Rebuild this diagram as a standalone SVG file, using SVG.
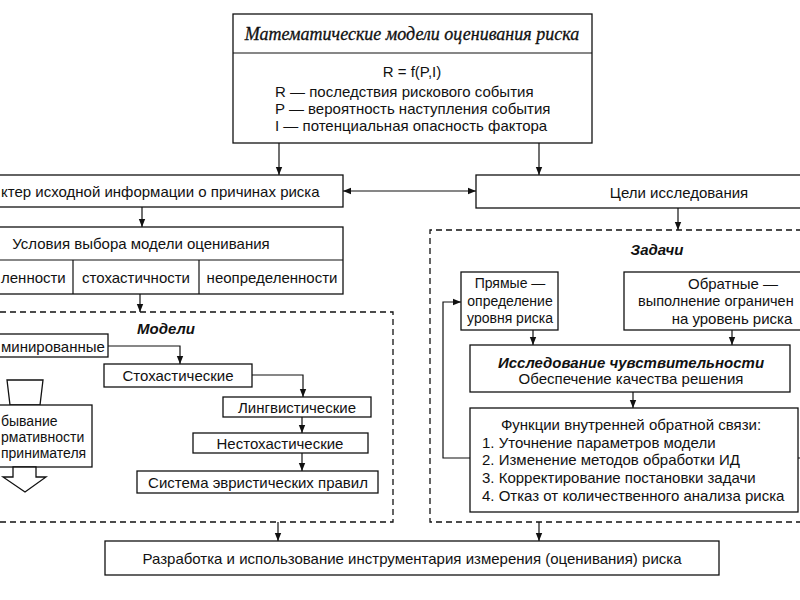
<svg xmlns="http://www.w3.org/2000/svg" width="800" height="600" viewBox="0 0 800 600">
<style>
.b{fill:#fff;stroke:#111;stroke-width:1.3}
.d{fill:none;stroke:#111;stroke-width:1.3;stroke-dasharray:6 4}
.c{fill:none;stroke:#111;stroke-width:1.2}
text{font-family:"Liberation Sans",Arial,sans-serif;font-size:15px;fill:#111;dominant-baseline:central}
.m{text-anchor:middle}
.s{font-size:14px}
.bi{font-weight:bold;font-style:italic}
.t{font-family:"Liberation Serif","Times New Roman",serif;font-style:italic;font-size:18px;stroke:#111;stroke-width:0.3}
</style>
<defs>
<marker id="a" viewBox="0 0 10 10" refX="10" refY="5" markerWidth="8" markerHeight="8" markerUnits="userSpaceOnUse" orient="auto-start-reverse"><path d="M0,1 L10,5 L0,9 z" fill="#111"/></marker>
</defs>
<rect width="800" height="600" fill="#fff"/>
<g id="connectors" class="c" marker-end="url(#a)">
<path d="M279,143 V175"/>
<path d="M539,143 V175"/>
<path d="M343,191 H476" marker-start="url(#a)"/>
<path d="M142,207 V227"/>
<path d="M140,294 V312"/>
<path d="M108,346 H180 V364"/>
<path d="M252,375 H303 V397"/>
<path d="M302,417 V433"/>
<path d="M302,453 V471"/>
<path d="M678,208 V230"/>
<path d="M533,330 V345"/>
<path d="M732,330 V345"/>
<path d="M633,392 V408"/>
<path d="M470,458 H443 V302 H461"/>
<path d="M798,458 H802" marker-end="none"/>
<path d="M278,522 V541"/>
<path d="M539,522 V541"/>
</g>
<g id="models-group"><path class="d" d="M0,312 H393 V522 H0"/><text x="166" y="328" class="m bi">Модели</text></g>
<g id="tasks-group"><path class="d" d="M802,230 H430 V522 H802"/><text x="657" y="249" class="m bi">Задачи</text></g>
<g id="top">
<rect class="b" x="233" y="14" width="359" height="129"/>
<line class="c" x1="233" y1="53" x2="592" y2="53"/>
<text x="412" y="34" class="m t">Математические модели оценивания риска</text>
<text x="412" y="71" class="m">R = f(P,I)</text>
<text x="275" y="91">R — последствия рискового события</text>
<text x="275" y="108">P — вероятность наступления события</text>
<text x="275" y="125">I — потенциальная опасность фактора</text>
</g>
<g id="info"><rect class="b" x="-2" y="175" width="345" height="32"/><text x="1" y="191">ктер исходной информации о причинах риска</text></g>
<g id="goals"><rect class="b" x="476" y="175" width="330" height="33"/><text x="679" y="192" class="m">Цели исследования</text></g>
<g id="conditions">
<rect class="b" x="-2" y="227" width="345" height="67"/>
<line class="c" x1="-2" y1="260" x2="343" y2="260"/>
<line class="c" x1="73" y1="260" x2="73" y2="294"/>
<line class="c" x1="199" y1="260" x2="199" y2="294"/>
<text x="141" y="243" class="m">Условия выбора модели оценивания</text>
<text x="1" y="277">ленности</text>
<text x="136" y="277" class="m">стохастичности</text>
<text x="272" y="277" class="m">неопределенности</text>
</g>
<g id="determ"><rect class="b" x="-2" y="334" width="110" height="23"/><text x="1" y="346">минированные</text></g>
<g id="stoch"><rect class="b" x="104" y="364" width="148" height="23"/><text x="178" y="375" class="m">Стохастические</text></g>
<g id="ling"><rect class="b" x="223" y="397" width="148" height="20"/><text x="297" y="407" class="m">Лингвистические</text></g>
<g id="nonstoch"><rect class="b" x="193" y="433" width="175" height="20"/><text x="280" y="443" class="m">Нестохастические</text></g>
<g id="heur"><rect class="b" x="137" y="471" width="241" height="22"/><text x="258" y="482" class="m">Система эвристических правил</text></g>
<g id="decrease">
<polygon class="b" points="7,380 43,380 40,405 10,405"/>
<rect class="b" x="-2" y="405" width="94" height="62"/>
<text x="1" y="421" class="s">бывание</text>
<text x="1" y="437" class="s">рмативности</text>
<text x="1" y="453" class="s">принимателя</text>
<polygon class="b" points="13,467 36,467 36,477 46,477 25,492 3,477 13,477"/>
</g>
<g id="direct"><rect class="b" x="461" y="272" width="97" height="58"/>
<text x="510" y="283" class="m s">Прямые —</text><text x="510" y="301" class="m s">определение</text><text x="510" y="318" class="m s">уровня риска</text></g>
<g id="inverse"><rect class="b" x="624" y="272" width="180" height="58"/>
<text x="733" y="283" class="m">Обратные —</text><text x="638" y="301" style="font-size:14.5px">выполнение ограничен</text><text x="732" y="318" class="m">на уровень риска</text></g>
<g id="sens"><rect class="b" x="470" y="345" width="320" height="47"/>
<text x="631" y="362" class="m bi">Исследование чувствительности</text><text x="631" y="378" class="m">Обеспечение качества решения</text></g>
<g id="feedback"><rect class="b" x="470" y="408" width="328" height="104"/>
<text x="631" y="424" class="m">Функции внутренней обратной связи:</text>
<text x="482" y="442">1. Уточнение параметров модели</text>
<text x="482" y="459">2. Изменение методов обработки ИД</text>
<text x="482" y="477">3. Корректирование постановки задачи</text>
<text x="482" y="495">4. Отказ от количественного анализа риска</text>
</g>
<g id="tools"><rect class="b" x="105" y="541" width="614" height="34"/><text x="412" y="558" class="m">Разработка и использование инструментария измерения (оценивания) риска</text></g>
</svg>
